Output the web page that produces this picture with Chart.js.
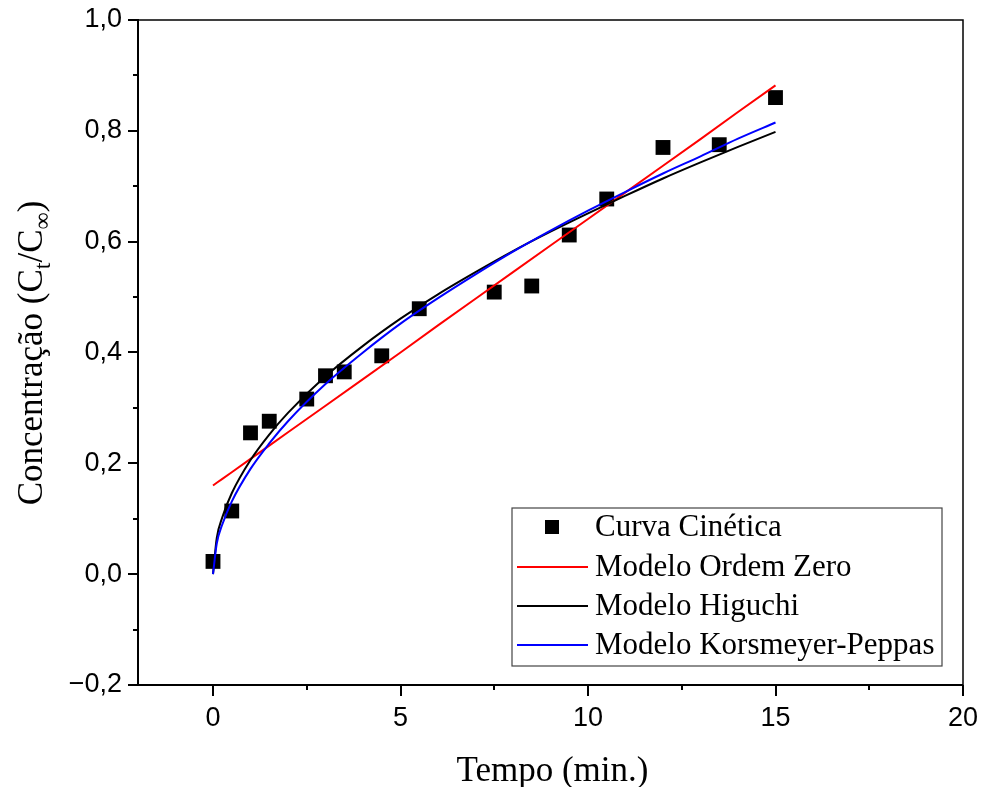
<!DOCTYPE html>
<html>
<head>
<meta charset="utf-8">
<script src="https://cdn.jsdelivr.net/npm/chart.js@4.4.1/dist/chart.umd.min.js"></script>
<style>
  html, body { margin: 0; padding: 0; background: #fff; }
  #wrap { width: 981px; height: 787px; }
</style>
</head>
<body>
<div id="wrap"><canvas id="grafico" width="981" height="787"></canvas></div>
<script>
// Pontos experimentais (tempo em min, Ct/Cinf)
const tempoExp = [0, 0.5, 1, 1.5, 2.5, 3, 3.5, 4.5, 5.5, 7.5, 8.5, 9.5, 10.5, 12, 13.5, 15];
const concExp = [0.023, 0.114, 0.255, 0.276, 0.316, 0.358, 0.365, 0.394, 0.479, 0.509, 0.520, 0.612, 0.677, 0.770, 0.775, 0.860];

const tempoModelo = [0, 0.1, 0.25, 0.5, 1, 1.5, 2, 3, 4, 5, 6, 7, 8, 9, 10, 11, 12, 13, 14, 15];
const ordemZero = [0.160, 0.165, 0.172, 0.184, 0.208, 0.232, 0.256, 0.304, 0.352, 0.400, 0.449, 0.497, 0.545, 0.593, 0.641, 0.689, 0.737, 0.785, 0.834, 0.882];
const higuchi = [0.000, 0.065, 0.103, 0.146, 0.206, 0.252, 0.291, 0.357, 0.412, 0.461, 0.505, 0.545, 0.583, 0.618, 0.651, 0.683, 0.714, 0.743, 0.771, 0.798];
const korsmeyer = [0.000, 0.055, 0.090, 0.131, 0.190, 0.236, 0.276, 0.343, 0.400, 0.452, 0.498, 0.541, 0.582, 0.620, 0.656, 0.690, 0.723, 0.754, 0.786, 0.815];

// Marcas dos eixos
const xTicks = [0, 5, 10, 15, 20];
const xMinor = [2.5, 7.5, 12.5, 17.5];
const yTicks = [-0.2, 0, 0.2, 0.4, 0.6, 0.8, 1.0];
const yMinor = [-0.1, 0.1, 0.3, 0.5, 0.7, 0.9];

const rotulos = ['Curva Cinética', 'Modelo Ordem Zero', 'Modelo Higuchi', 'Modelo Korsmeyer-Peppas'];

const pares = (xs, ys) => xs.map((x, i) => ({ x: x, y: ys[i] }));

const SERIF = '"Liberation Serif", "Times New Roman", serif';
const SANS = '"Liberation Sans", Arial, sans-serif';

// Eixos com moldura e marcas maiores/menores
const eixosPlugin = {
    id: 'eixos',
    afterDraw(chart) {
        const ctx = chart.ctx;
        const a = chart.chartArea;
        const xs = chart.scales.x, ys = chart.scales.y;
        ctx.save();
        ctx.strokeStyle = '#000';
        ctx.lineWidth = 1.5;
        ctx.strokeRect(a.left, a.top, a.right - a.left, a.bottom - a.top);
        ctx.lineWidth = 2;
        ctx.beginPath();
        ctx.moveTo(a.left, a.top - 1); ctx.lineTo(a.left, a.bottom);
        ctx.lineTo(a.right, a.bottom);
        ctx.stroke();
        ctx.beginPath();
        yTicks.forEach(v => { const p = Math.round(ys.getPixelForValue(v)); ctx.moveTo(a.left - 10, p); ctx.lineTo(a.left, p); });
        yMinor.forEach(v => { const p = Math.round(ys.getPixelForValue(v)); ctx.moveTo(a.left - 5, p); ctx.lineTo(a.left, p); });
        xTicks.forEach(v => { const p = Math.round(xs.getPixelForValue(v)); ctx.moveTo(p, a.bottom); ctx.lineTo(p, a.bottom + 11); });
        xMinor.forEach(v => { const p = Math.round(xs.getPixelForValue(v)); ctx.moveTo(p, a.bottom); ctx.lineTo(p, a.bottom + 5); });
        ctx.stroke();

        // título do eixo x
        ctx.fillStyle = '#000';
        ctx.font = '35px ' + SERIF;
        ctx.textAlign = 'center';
        ctx.textBaseline = 'alphabetic';
        ctx.fillText('Tempo (min.)', (a.left + a.right) / 2 + 2, 781);

        // título do eixo y com subscritos
        ctx.translate(42, 353);
        ctx.rotate(-Math.PI / 2);
        const partes = [['Concentração (C', 0], ['t', 1], ['/C', 0], ['∞', 1], [')', 0]];
        const medir = p => { ctx.font = (p[1] ? '24px ' : '35px ') + SERIF; return ctx.measureText(p[0]).width; };
        const total = partes.reduce((s, p) => s + medir(p), 0);
        let x = -total / 2;
        ctx.textAlign = 'left';
        partes.forEach(p => {
            const w = medir(p);
            ctx.fillText(p[0], x, p[1] ? 8 : 0);
            x += w;
        });
        ctx.restore();

        // legenda
        const lx = 512, ly = 508, lw = 430, lh = 158;
        ctx.save();
        ctx.fillStyle = '#fff';
        ctx.fillRect(lx, ly, lw, lh);
        ctx.strokeStyle = '#444';
        ctx.lineWidth = 1.2;
        ctx.strokeRect(lx, ly, lw, lh);
        ctx.font = '31px ' + SERIF;
        ctx.textBaseline = 'middle';
        ctx.textAlign = 'left';
        const linhas = [527, 567, 606, 645];
        chart.data.datasets.forEach((ds, i) => {
            const y = linhas[i];
            if (i === 0) {
                ctx.fillStyle = '#000';
                ctx.fillRect(545, y - 7, 14, 14);
            } else {
                ctx.strokeStyle = ds.borderColor;
                ctx.lineWidth = 2;
                ctx.beginPath();
                ctx.moveTo(517, y); ctx.lineTo(588, y);
                ctx.stroke();
            }
            ctx.fillStyle = '#000';
            ctx.fillText(ds.label, 595, y + 1);
        });
        ctx.restore();
    }
};

const ctx = document.getElementById('grafico').getContext('2d');
new Chart(ctx, {
    type: 'scatter',
    data: {
        datasets: [
            {
                label: rotulos[0],
                data: pares(tempoExp, concExp),
                pointStyle: 'rect',
                pointRadius: 10.5,
                backgroundColor: '#000',
                borderColor: '#000',
                borderWidth: 0,
                order: 4
            },
            {
                label: rotulos[1],
                data: pares(tempoModelo, ordemZero),
                showLine: true,
                pointRadius: 0,
                borderColor: '#ff0000',
                borderWidth: 2,
                order: 3
            },
            {
                label: rotulos[2],
                data: pares(tempoModelo, higuchi),
                showLine: true,
                pointRadius: 0,
                borderColor: '#000000',
                borderWidth: 2,
                cubicInterpolationMode: 'monotone',
                order: 2
            },
            {
                label: rotulos[3],
                data: pares(tempoModelo, korsmeyer),
                showLine: true,
                pointRadius: 0,
                borderColor: '#0000ff',
                borderWidth: 2,
                cubicInterpolationMode: 'monotone',
                order: 1
            }
        ]
    },
    options: {
        responsive: false,
        animation: false,
        layout: { padding: { left: 0, top: 20, right: 18, bottom: 0 } },
        plugins: { legend: { display: false }, tooltip: { enabled: false } },
        scales: {
            x: {
                type: 'linear',
                min: -2,
                max: 20,
                grid: { display: false, drawTicks: false },
                border: { display: false },
                afterBuildTicks: s => { s.ticks = xTicks.map(v => ({ value: v })); },
                afterFit: s => { s.height = 102; s.paddingLeft = 0; s.paddingRight = 0; },
                ticks: {
                    color: '#000',
                    font: { family: SANS, size: 27 },
                    padding: 17,
                    maxRotation: 0,
                    callback: v => String(v)
                }
            },
            y: {
                type: 'linear',
                min: -0.2,
                max: 1.0,
                grid: { display: false, drawTicks: false },
                border: { display: false },
                afterBuildTicks: s => { s.ticks = yTicks.map(v => ({ value: v })); },
                afterFit: s => { s.width = 138; s.paddingTop = 0; s.paddingBottom = 0; },
                ticks: {
                    color: '#000',
                    font: { family: SANS, size: 27 },
                    padding: 16,
                    callback: v => (v < 0 ? '−' : '') + Math.abs(v).toFixed(1).replace('.', ',')
                }
            }
        }
    },
    plugins: [eixosPlugin]
});
</script>
</body>
</html>
